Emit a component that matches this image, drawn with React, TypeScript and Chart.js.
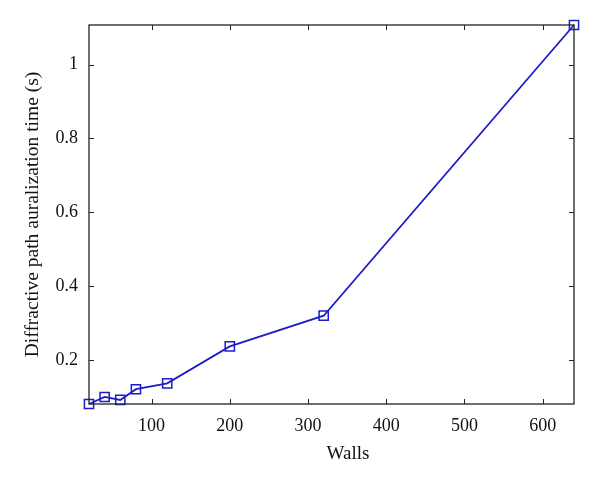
import React, { useEffect, useRef } from "react";
import { Chart, registerables } from "chart.js";

Chart.register(...registerables);

const walls = [20, 40, 60, 80, 120, 200, 320, 640];
const times = [0.081, 0.1, 0.092, 0.121, 0.137, 0.237, 0.32, 1.107];
const xTicks = [100, 200, 300, 400, 500, 600];
const yTicks = [0.2, 0.4, 0.6, 0.8, 1];
const xTitle = "Walls";

const FONT = "'Liberation Serif', 'DejaVu Serif', serif";

const boxPlugin = {
  id: "boxTicks",
  afterDatasetsDraw(chart: any) {
    const { ctx, chartArea, scales } = chart;
    const { left, right, top, bottom } = chartArea;
    const tl = 5;
    ctx.save();
    ctx.strokeStyle = "#222";
    ctx.lineWidth = 1;
    ctx.beginPath();
    xTicks.forEach((v) => {
      const px = Math.round(scales.x.getPixelForValue(v)) + 0.5;
      ctx.moveTo(px, bottom);
      ctx.lineTo(px, bottom - tl);
      ctx.moveTo(px, top);
      ctx.lineTo(px, top + tl);
    });
    yTicks.forEach((v) => {
      const py = Math.round(scales.y.getPixelForValue(v)) + 0.5;
      ctx.moveTo(left, py);
      ctx.lineTo(left + tl, py);
      ctx.moveTo(right, py);
      ctx.lineTo(right - tl, py);
    });
    ctx.stroke();
    ctx.lineWidth = 1.3;
    ctx.strokeRect(left, top, right - left, bottom - top);
    // x-axis title
    ctx.fillStyle = "#111";
    ctx.font = `19px ${FONT}`;
    ctx.textAlign = "center";
    ctx.textBaseline = "middle";
    ctx.fillText(xTitle, 348, 454);
    ctx.restore();
  },
};

export default function App() {
  const ref = useRef<HTMLCanvasElement | null>(null);
  useEffect(() => {
    document.body.style.margin = "0";
    const canvas = ref.current;
    if (!canvas) return;
    const chart = new Chart(canvas, {
      type: "line",
      data: {
        datasets: [
          {
            data: walls.map((w, i) => ({ x: w, y: times[i] })),
            borderColor: "#1c1cc8",
            backgroundColor: "rgba(0,0,0,0)",
            borderWidth: 1.8,
            pointStyle: "rect",
            pointRadius: 6.5,
            pointBorderWidth: 1.5,
            pointBorderColor: "#1c1cc8",
            pointBackgroundColor: "rgba(0,0,0,0)",
            tension: 0,
            clip: false as any,
          },
        ],
      },
      options: {
        animation: false,
        responsive: false,
        maintainAspectRatio: false,
        layout: { padding: { left: 0, right: 26, top: 25, bottom: 0 } },
        plugins: { legend: { display: false }, tooltip: { enabled: false } },
        scales: {
          x: {
            type: "linear",
            min: 20,
            max: 640,
            afterBuildTicks: (s: any) => {
              s.ticks = xTicks.map((v) => ({ value: v }));
            },
            afterFit: (s: any) => {
              s.height = 82;
            },
            grid: { display: false, drawTicks: false },
            border: { display: false },
            ticks: {
              color: "#111",
              font: { family: FONT, size: 18 },
              padding: 11,
              maxRotation: 0,
              callback: (v: any) => String(v),
            },
            title: { display: false },
          },
          y: {
            type: "linear",
            min: 0.081,
            max: 1.107,
            afterBuildTicks: (s: any) => {
              s.ticks = yTicks.map((v) => ({ value: v }));
            },
            afterFit: (s: any) => {
              s.width = 89;
            },
            grid: { display: false, drawTicks: false },
            border: { display: false },
            ticks: {
              color: "#111",
              font: { family: FONT, size: 18 },
              padding: 11,
              callback: (v: any) => String(Math.round(v * 10) / 10),
            },
            title: {
              display: true,
              text: "Diffractive path auralization time (s)",
              color: "#111",
              font: { family: FONT, size: 19.5 },
              padding: { top: 21, bottom: 0 },
            },
          },
        },
      },
      plugins: [boxPlugin],
    });
    return () => chart.destroy();
  }, []);
  return <canvas ref={ref} width={600} height={486} style={{ display: "block" }} />;
}
